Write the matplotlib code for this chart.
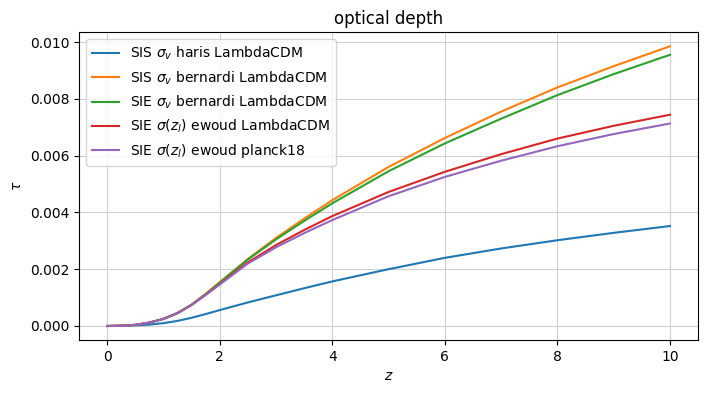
import matplotlib
matplotlib.use("Agg")
import matplotlib.pyplot as plt

# redshift samples
z = [0, 0.25, 0.5, 0.75, 1, 1.25, 1.5, 1.75, 2, 2.5, 3, 3.5, 4, 5, 6, 7, 8, 9, 10]

tau_sis_haris = [0, 0.00001, 0.00002, 0.00005, 0.00010, 0.00018, 0.00029, 0.00042, 0.00056,
                 0.00083, 0.00108, 0.00133, 0.00157,
                 0.00200, 0.00240, 0.00273, 0.00302, 0.00328, 0.00352]
tau_sis_bernardi = [0, 0.00001, 0.00004, 0.00012, 0.00025, 0.00046, 0.00075, 0.00113, 0.00154,
                    0.00236, 0.00310, 0.00378, 0.00443,
                    0.00560, 0.00662, 0.00755, 0.00840, 0.00915, 0.00985]
tau_sie_bernardi = [0, 0.00001, 0.00004, 0.00012, 0.00025, 0.00046, 0.00075, 0.00112, 0.00153,
                    0.00234, 0.00305, 0.00370, 0.00432,
                    0.00545, 0.00643, 0.00730, 0.00813, 0.00887, 0.00955]
tau_sie_ewoud_lcdm = [0, 0.00001, 0.00004, 0.00012, 0.00025, 0.00045, 0.00074, 0.00110, 0.00148,
                      0.00224, 0.00285, 0.00338, 0.00387,
                      0.00472, 0.00543, 0.00605, 0.00660, 0.00705, 0.00744]
tau_sie_ewoud_planck = [0, 0.00001, 0.00004, 0.00012, 0.00025, 0.00045, 0.00074, 0.00109, 0.00146,
                        0.00220, 0.00277, 0.00327, 0.00373,
                        0.00457, 0.00525, 0.00582, 0.00633, 0.00676, 0.00713]

labels = [r"SIS $\sigma_v$ haris LambdaCDM",
          r"SIS $\sigma_v$ bernardi LambdaCDM",
          r"SIE $\sigma_v$ bernardi LambdaCDM",
          r"SIE $\sigma(z_l)$ ewoud LambdaCDM",
          r"SIE $\sigma(z_l)$ ewoud planck18"]
series = [tau_sis_haris, tau_sis_bernardi, tau_sie_bernardi,
          tau_sie_ewoud_lcdm, tau_sie_ewoud_planck]

fig = plt.figure(figsize=(7.08, 3.93), dpi=100)
ax = fig.add_axes([0.1116, 0.1349, 0.8744, 0.7829])

for tau, lab in zip(series, labels):
    ax.plot(z, tau, label=lab)

ax.set_title("optical depth")
ax.set_xlabel(r"$z$")
ax.set_ylabel(r"$\tau$")
ax.grid(True, color="#d0d0d0", linewidth=0.8)
ax.legend(loc="upper left")

fig.savefig("out.png", dpi=100)
